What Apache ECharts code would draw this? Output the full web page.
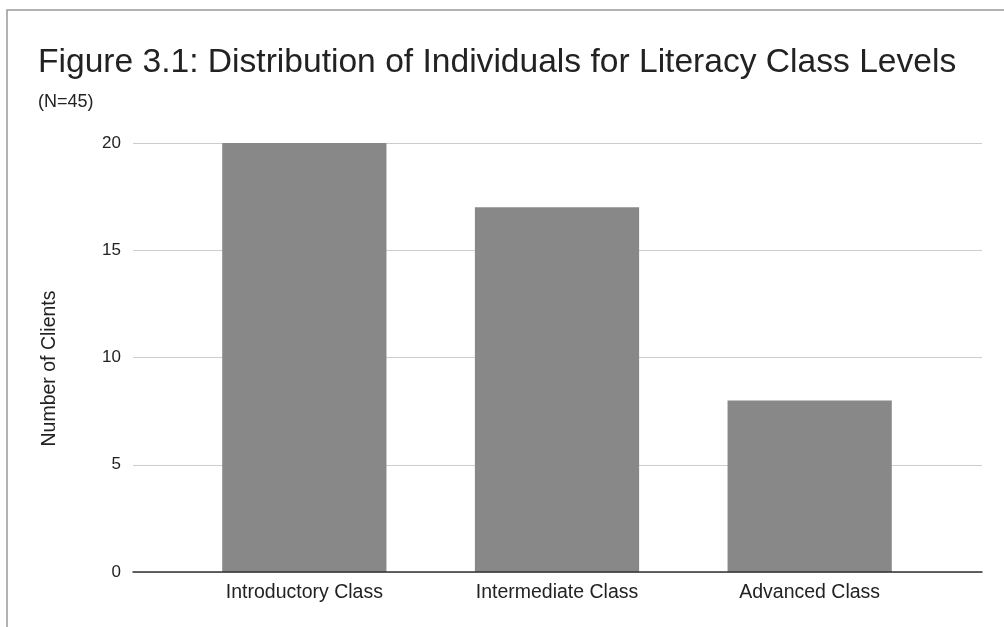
<!DOCTYPE html>
<html>
<head>
<meta charset="utf-8">
<script src="https://cdn.jsdelivr.net/npm/echarts@6/dist/echarts.min.js"></script>
<style>
  html, body { margin: 0; padding: 0; background: #fff; }
  #main { width: 1004px; height: 627px; }
</style>
</head>
<body>
<div id="main"></div>
<script>
const categories = ['Introductory Class', 'Intermediate Class', 'Advanced Class'];
const clients = [20, 17, 8];
const yTicks = [0, 5, 10, 15, 20];

const chart = echarts.init(document.getElementById('main'));

const yMin = yTicks[0];
const yMax = yTicks[yTicks.length - 1];

var option = {
  animation: false,
  textStyle: { fontFamily: 'Liberation Sans, Arial, sans-serif' },
  title: {
    text: 'Figure 3.1: Distribution of Individuals for Literacy Class Levels',
    subtext: '(N=45)',
    left: 33,
    top: 41,
    itemGap: 13,
    textStyle: { fontSize: 33.6, fontWeight: 'normal', color: '#222' },
    subtextStyle: { fontSize: 18, color: '#222' }
  },
  graphic: [
    {
      type: 'polyline',
      shape: { points: [[7, 627], [7, 10], [1004, 10]] },
      style: { stroke: '#999', lineWidth: 1.5, fill: null }
    }
  ],
  // grid 0: full-width frame with gridlines; grid 1: bar band area
  grid: [
    { left: 133, right: 22, top: 143, bottom: 55 },
    { left: 178, right: 68, top: 143, bottom: 55 }
  ],
  xAxis: [
    {
      gridIndex: 0,
      type: 'category',
      data: [''],
      axisTick: { show: false },
      axisLabel: { show: false },
      axisLine: { lineStyle: { color: '#333', width: 1.5 } },
      z: 5
    },
    {
      gridIndex: 1,
      type: 'category',
      data: categories,
      axisTick: { show: false },
      axisLine: { show: false },
      axisLabel: { fontSize: 19.5, color: '#222', margin: 11 }
    }
  ],
  yAxis: [
    {
      gridIndex: 0,
      type: 'value',
      min: yMin,
      max: yMax,
      interval: 5,
      name: 'Number of Clients',
      nameLocation: 'middle',
      nameGap: 73,
      nameTextStyle: { fontSize: 19.5, color: '#222', padding: [0, 22, 0, 0] },
      axisLabel: { fontSize: 17, color: '#222', margin: 12 },
      splitLine: { lineStyle: { color: '#ccc' } }
    },
    {
      gridIndex: 1,
      type: 'value',
      min: yMin,
      max: yMax,
      interval: 5,
      show: false,
      splitLine: { show: false }
    }
  ],
  series: [
    {
      type: 'bar',
      xAxisIndex: 1,
      yAxisIndex: 1,
      data: clients,
      barWidth: '65%',
      itemStyle: { color: '#888888' }
    }
  ]
};

chart.setOption(option);
</script>
</body>
</html>
